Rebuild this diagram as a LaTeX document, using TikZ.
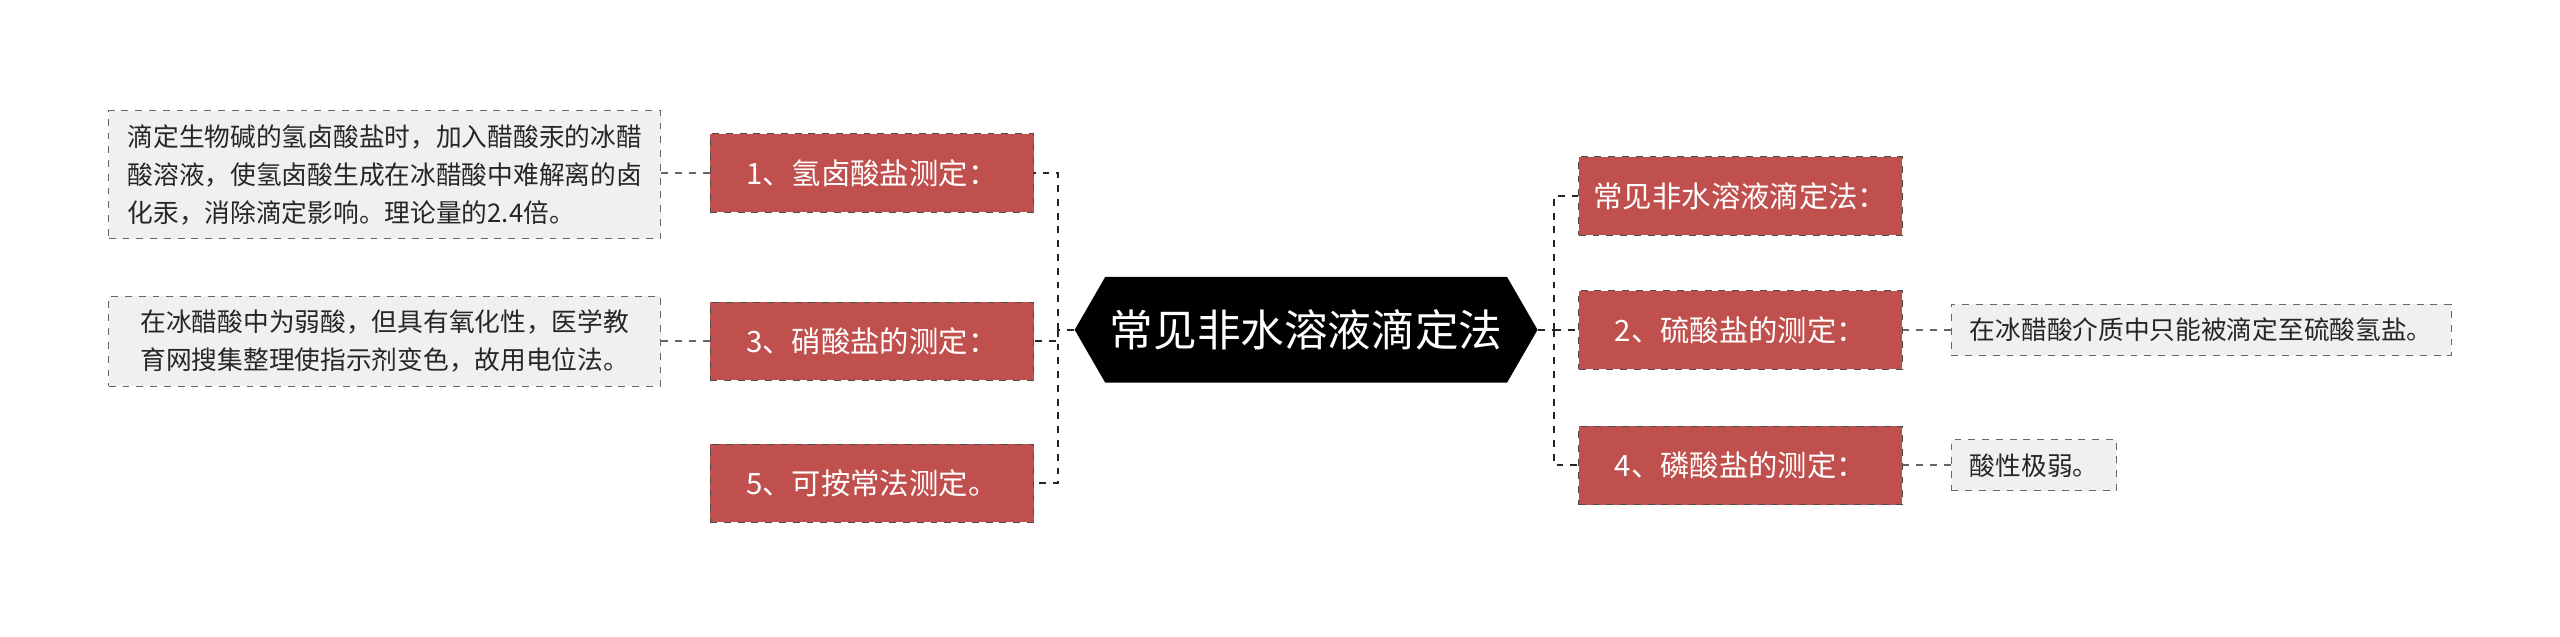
\documentclass[tikz,border=0pt]{standalone}
\usepackage{fontspec}
\setmainfont{Noto Sans CJK SC}
\usetikzlibrary{shapes.symbols, positioning}

\definecolor{topicred}{HTML}{C0504D}
\definecolor{leafgray}{HTML}{F0F0F0}

\tikzset{
  centerbox/.style={shape=signal, signal to=west and east, signal pointer angle=120,
    fill=black, text=white, minimum width=6.85cm, minimum height=1.62cm,
    font=\fontsize{19}{22}\selectfont, inner sep=2pt},
  topicbox/.style={draw=black!70, dashed, fill=topicred, text=white,
    minimum width=4.95cm, minimum height=1.2cm, font=\fontsize{12.8}{15}\selectfont},
  leafbox/.style={draw=black!60, dashed, fill=leafgray, text=black!85,
    font=\fontsize{11.2}{16.5}\selectfont, inner xsep=8pt, inner ysep=6pt, align=left},
  link/.style={dashed, thick, black!85},
  leaflink/.style={dashed, thick, black!60}
}

\begin{document}
\begin{tikzpicture}[x=0.025cm, y=-0.025cm]
\useasboundingbox (0,0) rectangle (1568,390);
% center
\node[centerbox] (root) at (800,202) {常见非水溶液滴定法};
% left topics
\node[topicbox] (t1) at (534,106) {1、氢卤酸盐测定：};
\node[topicbox] (t3) at (534,209) {3、硝酸盐的测定：};
\node[topicbox] (t5) at (534,296) {5、可按常法测定。};
% right topics
\node[topicbox] (t0) at (1066,120) {常见非水溶液滴定法：};
\node[topicbox] (t2) at (1066,202) {2、硫酸盐的测定：};
\node[topicbox] (t4) at (1066,285) {4、磷酸盐的测定：};
% leaves
\node[leafbox, minimum width=8.45cm, anchor=east] (l1) at (405,107)
  {滴定生物碱的氢卤酸盐时，加入醋酸汞的冰醋\\酸溶液，使氢卤酸生成在冰醋酸中难解离的卤\\化汞，消除滴定影响。理论量的2.4倍。};
\node[leafbox, minimum width=8.45cm, anchor=east] (l3) at (405,209)
  {在冰醋酸中为弱酸，但具有氧化性，医学教\\育网搜集整理使指示剂变色，故用电位法。};
\node[leafbox, anchor=west] (l2) at (1195,202) {在冰醋酸介质中只能被滴定至硫酸氢盐。};
\node[leafbox, anchor=west] (l4) at (1195,285) {酸性极弱。};
% connectors
\coordinate (lb) at (648,202);
\coordinate (rb) at (952,202);
\draw[link] (root.west) -- (lb);
\draw[link] (root.east) -- (rb);
\foreach \t in {t1,t3,t5} \draw[link] (lb) |- (\t.east);
\foreach \t in {t0,t2,t4} \draw[link] (rb) |- (\t.west);
\draw[leaflink] (t1.west) -- (l1.east |- t1.west);
\draw[leaflink] (t3.west) -- (l3.east |- t3.west);
\draw[leaflink] (t2.east) -- (l2.west);
\draw[leaflink] (t4.east) -- (l4.west);
\end{tikzpicture}
\end{document}
